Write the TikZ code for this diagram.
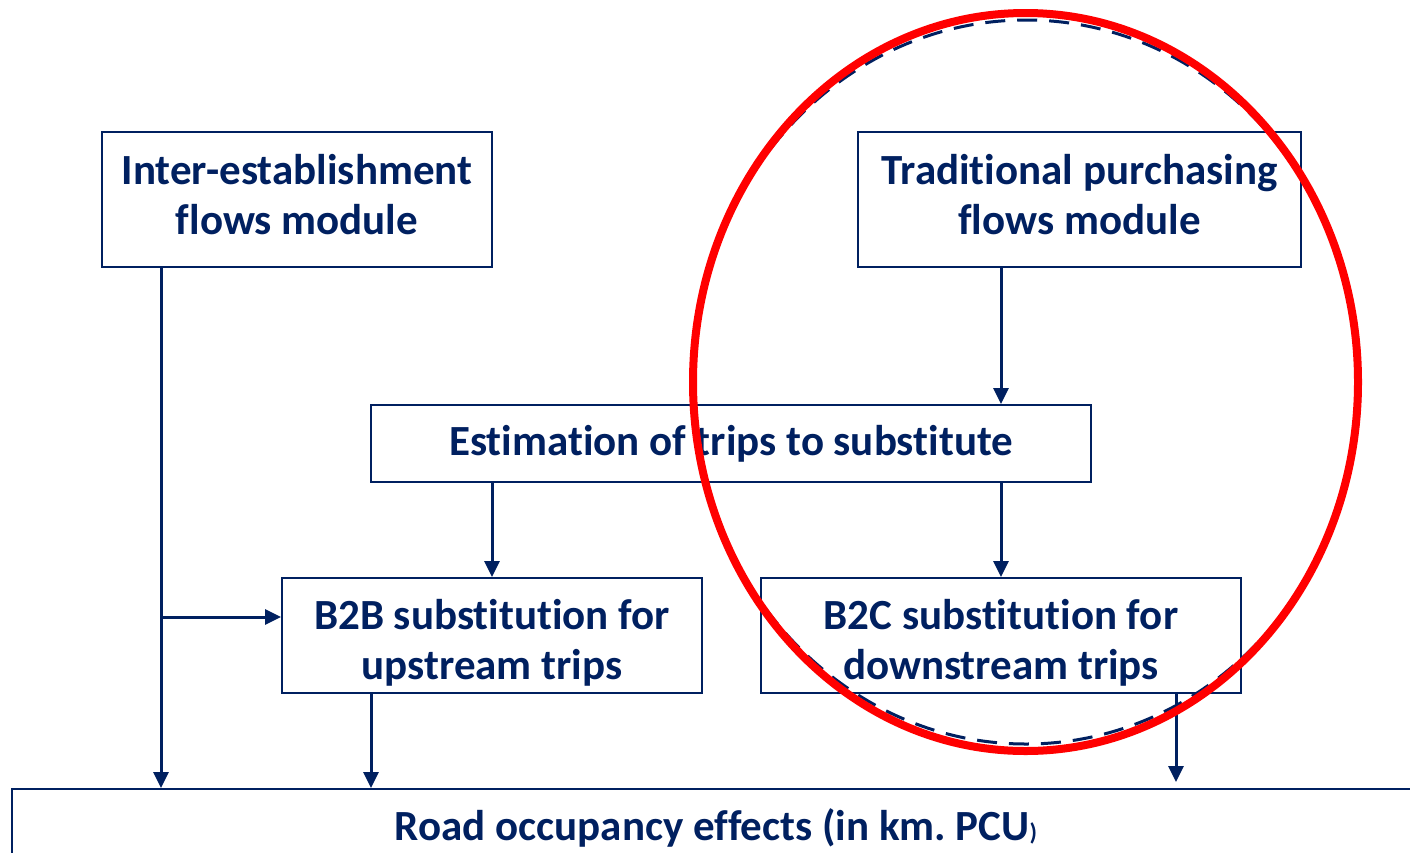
\documentclass[tikz,border=0pt]{standalone}
\usepackage{fontspec}
\setmainfont{Carlito}[Ligatures=NoCommon]
\usetikzlibrary{arrows.meta}
\definecolor{navy}{RGB}{0,32,96}
\frenchspacing
\begin{document}
\begin{tikzpicture}[x=1pt,y=-1pt,
 box/.style={draw=navy,line width=2pt,inner sep=0pt},
 txt/.style={text=navy,font=\fontsize{43}{50}\selectfont\bfseries,align=center,inner sep=0pt},
 arr/.style={draw=navy,line width=3pt,-{Triangle[length=16pt,width=15pt]}}]
\useasboundingbox (0,0) rectangle (1410,852);
\clip (0,0) rectangle (1410,852);
\fill[white] (0,0) rectangle (1410,852);
% boxes
\node[box,minimum width=390pt,minimum height=135pt] (ie) at (297,199.5) {};
\node[box,minimum width=443pt,minimum height=135pt] (tp) at (1079.5,199.5) {};
\node[box,minimum width=720pt,minimum height=77pt] (est) at (731,443.5) {};
\node[box,minimum width=420pt,minimum height=115pt] (b2b) at (492,635.5) {};
\node[box,minimum width=480pt,minimum height=115pt] (b2c) at (1001,635.5) {};
\node[box,minimum width=1408pt,minimum height=74pt] (road) at (716,826) {};
% texts
\node[txt] (ie-t) at (297,194.5) {Inter-establishment\\flows module};
\node[txt] (tp-t) at (1079.5,194.5) {Traditional purchasing\\flows module};
\node[txt] (est-t) at (731,443.5) {Estimation of trips to substitute};
\node[txt] (b2b-t) at (492,642.5) {B2B substitution for\\upstream trips};
\node[txt] (b2c-t) at (1001,642.5) {B2C substitution for\\downstream trips};
\node[txt] (road-t) at (716,828) {Road occupancy effects (in km. PCU{\fontsize{24}{28}\selectfont)}};
% connectors
\coordinate (xa) at (161,617);
\coordinate (xb) at (371,0);
\coordinate (xc) at (1176,0);
\draw[arr] (ie.south -| xa) -- (road.north -| xa);
\draw[arr] (xa) -- (b2b.west |- xa);
\draw[arr] (tp.south -| b2c.north) -- (est.north -| b2c.north);
\draw[arr] (est.south -| b2b.north) -- (b2b.north);
\draw[arr] (est.south -| b2c.north) -- (b2c.north);
\draw[arr] (b2b.south -| xb) -- (road.north -| xb);
\draw[arr,shorten >=6pt] (b2c.south -| xc) -- (road.north -| xc);
% ellipses
\draw[navy,line width=3pt,dash pattern=on 20pt off 12pt] (1026,382) ellipse [x radius=334, y radius=362];
\draw[red,line width=8pt] (1025.5,382) ellipse [x radius=332.5, y radius=369];
\end{tikzpicture}
\end{document}
